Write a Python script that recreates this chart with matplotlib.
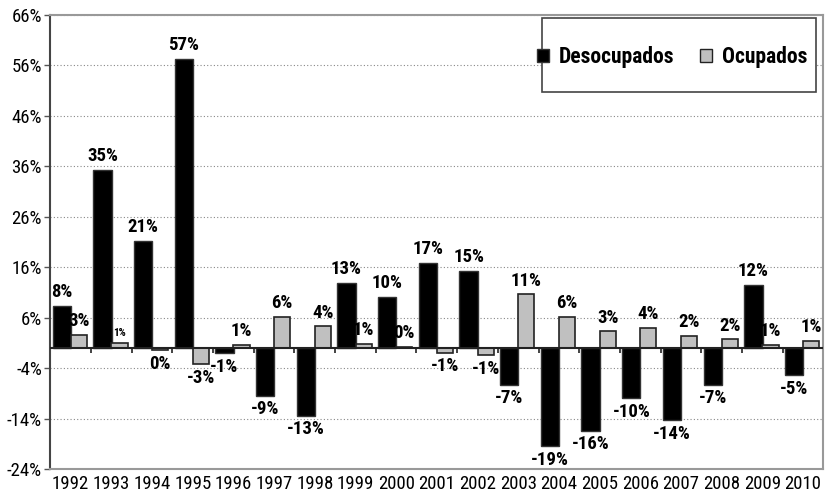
import matplotlib
matplotlib.use('Agg')
import matplotlib.pyplot as plt
import numpy as np
from matplotlib.patches import Rectangle, Patch

plt.rcParams['font.family'] = ['Roboto Condensed', 'DejaVu Sans']

years = ['1992', '1993', '1994', '1995', '1996', '1997', '1998', '1999', '2000', '2001',
         '2002', '2003', '2004', '2005', '2006', '2007', '2008', '2009', '2010']
desocupados = [8.4, 35.3, 21.2, 57.3, -1.0, -9.4, -13.4, 12.9, 10.2, 16.9,
               15.3, -7.3, -19.4, -16.4, -9.9, -14.3, -7.3, 12.5, -5.4]
ocupados = [2.6, 1.0, -0.4, -3.2, 0.6, 6.2, 4.3, 0.9, 0.3, -0.9,
            -1.4, 10.7, 6.2, 3.3, 4.0, 2.4, 1.7, 0.6, 1.4]
yticks = [-24, -14, -4, 6, 16, 26, 36, 46, 56, 66]

fig = plt.figure(figsize=(8.25, 4.96), dpi=100)
ax = fig.add_axes([0.061, 0.054, 0.937, 0.916])

x = np.arange(len(years))
w = 0.45
b1 = ax.bar(x - 0.22, desocupados, w, color='black', edgecolor='#333333', linewidth=1, zorder=3)
b2 = ax.bar(x + 0.2, ocupados, w * 0.88, color='#c0c0c0', edgecolor='#222222', linewidth=1.2, zorder=3)

def add_labels(bars, vals, small=None):
    for i, (r, v) in enumerate(zip(bars, vals)):
        cx = r.get_x() + r.get_width() / 2
        s = f"{int(round(v))}%"
        fs = 13.5
        if small is not None and i == small:
            fs = 8
        if v >= 0:
            ax.text(cx, v + 0.9, s, ha='center', va='bottom', fontsize=fs, fontweight='bold', zorder=4)
        else:
            ax.text(cx, v - 0.9, s, ha='center', va='top', fontsize=fs, fontweight='bold', zorder=4)

add_labels(b1, desocupados)
add_labels(b2, ocupados, small=1)

ax.set_xlim(-0.5, len(years) - 0.5)
ax.set_ylim(-24, 66)
ax.set_yticks(yticks)
ax.set_yticklabels([f"{t}%" for t in yticks], fontsize=13.5)
ax.set_xticks(x)
ax.set_xticklabels(years, fontsize=13.5)
ax.tick_params(axis='x', length=0, pad=4)
ax.tick_params(axis='y', length=4, width=1, color='#555555', pad=2)
ax.grid(axis='y', linestyle=(0, (1, 2)), color='#888888', linewidth=0.8, zorder=0)

ax.axhline(0, color='#222222', linewidth=1.5, zorder=3)
ax.vlines(x[:-1] + 0.5, -0.9, 0, color='#222222', linewidth=1.2, zorder=3)

for side in ['top', 'right', 'bottom']:
    ax.spines[side].set_color('#999999')
    ax.spines[side].set_linewidth(1.5)
ax.spines['left'].set_color('#444444')
ax.spines['left'].set_linewidth(1.5)

box = Rectangle((0.636, 0.83), 0.354, 0.163, transform=ax.transAxes, facecolor='white',
                edgecolor='#444444', linewidth=1.2, zorder=5)
ax.add_patch(box)
handles = [Patch(facecolor='black', edgecolor='#333333', label='Desocupados'),
           Patch(facecolor='#c0c0c0', edgecolor='#222222', label='Ocupados')]
leg = ax.legend(handles=handles, ncol=2, loc='upper right', bbox_to_anchor=(0.99, 0.95),
                frameon=False, prop={'size': 15.5, 'weight': 'bold'}, handlelength=0.55,
                handleheight=0.55, handletextpad=0.45, columnspacing=1.2, borderaxespad=0.0)
leg.set_zorder(6)

fig.savefig('out.png', dpi=100)
